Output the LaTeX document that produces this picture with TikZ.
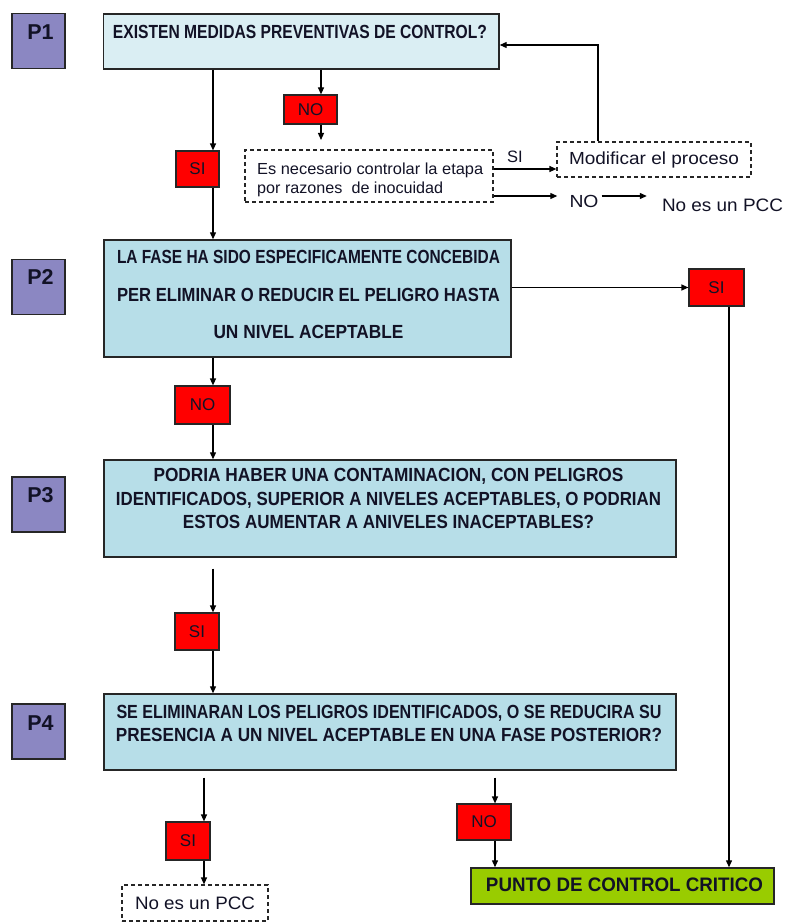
\documentclass[tikz,border=0pt]{standalone}
\usepackage{fontspec}
\setmainfont{Liberation Sans}
\usepackage{graphicx}
\usetikzlibrary{arrows.meta}

\definecolor{pfill}{RGB}{139,135,194}
\definecolor{qfillA}{RGB}{218,238,243}
\definecolor{qfillB}{RGB}{183,222,232}
\definecolor{redfill}{RGB}{255,0,0}
\definecolor{greenfill}{RGB}{153,204,0}
\definecolor{ink}{RGB}{18,18,38}
\definecolor{edge}{RGB}{38,38,38}

% squeeze a line of text to a given width (in pt), keeping its height
\newcommand\squeezeto[2]{\resizebox{#1pt}{\height}{#2}}

\tikzset{
  pbox/.style={draw=edge, line width=1.4pt, fill=pfill, minimum width=53pt,
               minimum height=55pt, inner sep=0pt},
  qbox/.style={draw=edge, line width=1.4pt, inner sep=0pt},
  tagbox/.style={draw=edge, line width=1.2pt, fill=redfill, inner sep=0pt,
                 font=\fontsize{17}{19}\selectfont, text=ink},
  dbox/.style={draw=edge, line width=1.2pt, dash pattern=on 4pt off 3pt, inner sep=0pt},
  arr/.style={line width=1.2pt, draw=black, -{Triangle[length=7pt,width=6pt]}},
  ptext/.style={font=\fontsize{21.5}{24}\selectfont\bfseries, text=ink, inner sep=0pt},
  qtext/.style={text=ink, inner sep=0pt, align=center},
  plain/.style={text=ink, inner sep=0pt},
}

\begin{document}
\begin{tikzpicture}[x=1pt,y=-1pt]
\useasboundingbox (0,0) rectangle (784,923);

% column and row guides for the connectors
\coordinate (cA) at (213,0);
\coordinate (cB) at (321,0);
\coordinate (cC) at (598,0);
\coordinate (cD) at (729,0);
\coordinate (cE) at (204,0);
\coordinate (cF) at (495,0);
\coordinate (r45) at (0,45);
\coordinate (r169) at (0,169);
\coordinate (r196) at (0,196);
\coordinate (e1) at (321,140);

% step labels
\node[pbox] (p1) at (38.5,41) {};
\node[pbox] (p2) at (38.5,287) {};
\node[pbox] (p3) at (38.5,504.5) {};
\node[pbox] (p4) at (38.5,731.5) {};
\node[ptext] (p1t) at (40.5,32) {P1};
\node[ptext] (p2t) at (40.5,277) {P2};
\node[ptext] (p3t) at (40.5,495) {P3};
\node[ptext] (p4t) at (40.5,723.5) {P4};

% question boxes
\node[qbox, fill=qfillA, minimum width=395.5pt, minimum height=55pt] (q1) at (301.25,41.5) {};
\node[qbox, fill=qfillB, minimum width=407pt, minimum height=117pt] (q2) at (307.5,298.5) {};
\node[qbox, fill=qfillB, minimum width=572pt, minimum height=97pt] (q3) at (390,508.5) {};
\node[qbox, fill=qfillB, minimum width=572pt, minimum height=76pt] (q4) at (390,732) {};
\node[qbox, fill=greenfill, minimum width=303pt, minimum height=36pt] (pcc) at (622.5,886) {};

\node[qtext, font=\fontsize{19}{20}\selectfont\bfseries] (q1t) at (300,32)
  {\squeezeto{374}{EXISTEN MEDIDAS PREVENTIVAS DE CONTROL?}};
\node[qtext, font=\fontsize{19}{37.5}\selectfont\bfseries] (q2t) at (308.5,294.5)
  {\squeezeto{383}{LA FASE HA SIDO ESPECIFICAMENTE CONCEBIDA}\\
   \squeezeto{383}{PER ELIMINAR O REDUCIR EL PELIGRO HASTA}\\
   \squeezeto{190}{UN NIVEL ACEPTABLE}};
\node[qtext, font=\fontsize{19}{23.5}\selectfont\bfseries] (q3t) at (388.5,498.5)
  {\squeezeto{470}{PODRIA HABER UNA CONTAMINACION, CON PELIGROS}\\
   \squeezeto{545}{IDENTIFICADOS, SUPERIOR A NIVELES ACEPTABLES, O PODRIAN}\\
   \squeezeto{411}{ESTOS AUMENTAR A ANIVELES INACEPTABLES?}};
\node[qtext, font=\fontsize{19}{23}\selectfont\bfseries] (q4t) at (389,723.5)
  {\squeezeto{545}{SE ELIMINARAN LOS PELIGROS IDENTIFICADOS, O SE REDUCIRA SU}\\
   \squeezeto{546}{PRESENCIA A UN NIVEL ACEPTABLE EN UNA FASE POSTERIOR?}};
\node[qtext, font=\fontsize{19.5}{20}\selectfont\bfseries] (pcct) at (624.5,885)
  {\squeezeto{277}{PUNTO DE CONTROL CRITICO}};

% answer tags
\node[tagbox, minimum width=43pt, minimum height=36pt] (s1) at (197.5,169) {SI};
\node[tagbox, minimum width=53pt, minimum height=29pt] (n1) at (310.5,109.5) {NO};
\node[tagbox, minimum width=55pt, minimum height=37pt] (s2) at (716.5,287.5) {SI};
\node[tagbox, minimum width=55pt, minimum height=38pt] (n2) at (202.5,405) {NO};
\node[tagbox, minimum width=44pt, minimum height=37pt] (s3) at (197,631.5) {SI};
\node[tagbox, minimum width=44pt, minimum height=38pt] (s4) at (188,841) {SI};
\node[tagbox, minimum width=54pt, minimum height=36pt] (n4) at (484,822) {NO};

% dashed boxes
\node[dbox, minimum width=248pt, minimum height=52pt] (d1) at (369,176) {};
\node[plain, anchor=west, align=left, font=\fontsize{16}{19}\selectfont] (d1t) at (257,179.5)
  {\squeezeto{226}{Es necesario controlar la etapa}\\
   \squeezeto{186}{por razones\ \ de inocuidad}};
\node[dbox, minimum width=194pt, minimum height=35pt, font=\fontsize{17.5}{19}\selectfont, text=ink]
  (m1) at (654,159.5) {\squeezeto{170}{Modificar el proceso}};
\node[dbox, minimum width=146pt, minimum height=36pt, font=\fontsize{18}{19}\selectfont, text=ink]
  (d2) at (195,903) {\squeezeto{120}{No es un PCC}};

% free labels on the right
\node[plain, font=\fontsize{16.5}{18}\selectfont] (silbl) at (515,157) {SI};
\node[plain, font=\fontsize{17.5}{19}\selectfont] (nolbl) at (584,201.5) {\squeezeto{29}{NO}};
\node[plain, font=\fontsize{18}{19}\selectfont] (npcc) at (722.5,205.5) {\squeezeto{121}{No es un PCC}};

% connectors
\draw[arr] (q1.south -| cA) -- (s1.north -| cA);
\draw[arr] (s1.south -| cA) -- (q2.north -| cA);
\draw[arr] (q1.south -| cB) -- (n1.north -| cB);
\draw[arr] (n1.south -| cB) -- (e1);
\draw[arr] (d1.east |- r169) -- (m1.west |- r169);
\draw[arr] (m1.north -| cC) |- (q1.east |- r45);
\draw[arr, shorten >=12pt] (d1.east |- r196) -- (nolbl.west |- r196);
\draw[arr, shorten <=3pt, shorten >=15pt] (nolbl.east |- r196) -- (npcc.west |- r196);
\draw[arr] (q2.east |- s2.west) -- (s2.west);
\draw[arr] (s2.south -| cD) -- (pcc.north -| cD);
\draw[arr] (q2.south -| cA) -- (n2.north -| cA);
\draw[arr] (n2.south -| cA) -- (q3.north -| cA);
\draw[arr, shorten <=11pt] (q3.south -| cA) -- (s3.north -| cA);
\draw[arr] (s3.south -| cA) -- (q4.north -| cA);
\draw[arr, shorten <=7pt] (q4.south -| cE) -- (s4.north -| cE);
\draw[arr] (s4.south -| cE) -- (d2.north -| cE);
\draw[arr, shorten <=7pt] (q4.south -| cF) -- (n4.north -| cF);
\draw[arr] (n4.south -| cF) -- (pcc.north -| cF);
\end{tikzpicture}
\end{document}
